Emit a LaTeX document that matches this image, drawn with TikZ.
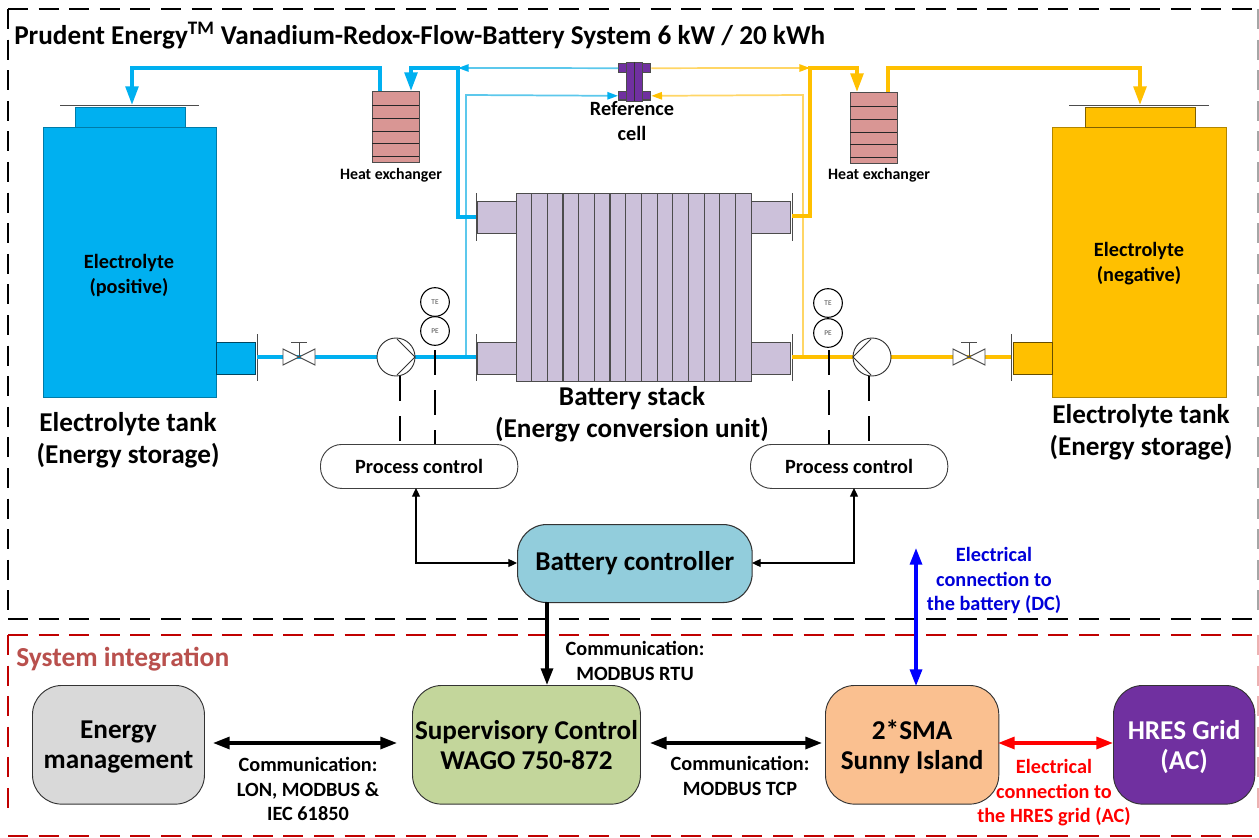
\documentclass[tikz,border=0pt]{standalone}
\usepackage{fontspec}
\setmainfont{Carlito}
\usetikzlibrary{arrows.meta}
\definecolor{cy}{HTML}{00B0F0}
\definecolor{cyl}{HTML}{5CC8EC}
\definecolor{yl}{HTML}{FFC000}
\definecolor{yll}{HTML}{FFD666}
\definecolor{stk}{HTML}{CCC1DA}
\definecolor{hx}{HTML}{D99694}
\definecolor{pur}{HTML}{7030A0}
\definecolor{dred}{HTML}{C00000}
\definecolor{sysred}{HTML}{B9504D}
\definecolor{bcf}{HTML}{92CDDC}
\definecolor{emf}{HTML}{D9D9D9}
\definecolor{scf}{HTML}{C3D69B}
\definecolor{smaf}{HTML}{FAC090}
\tikzset{
  x=0.75pt,y=-0.75pt,
  box/.style={draw=#1,line width=1pt,inner sep=0pt,anchor=north west},
  txt/.style={font=\bfseries,align=center,inner sep=0pt,text depth=0pt},
  big/.style={txt,font=\fontsize{20.4}{23}\selectfont\bfseries},
  hd/.style={txt,font=\fontsize{20.4}{24.5}\selectfont\bfseries},
  mid/.style={txt,font=\fontsize{15.2}{18.5}\selectfont\bfseries},
  sm/.style={txt,font=\fontsize{11.9}{13}\selectfont\bfseries},
  pipeC/.style={draw=cy,line width=2.7pt},
  pipeY/.style={draw=yl,line width=2.7pt},
  thinC/.style={draw=cyl,line width=1.3pt},
  thinY/.style={draw=yll,line width=1.3pt},
  flange/.style={draw=black!70,line width=.6pt},
  sensor/.style={circle,draw=black,line width=.8pt,minimum size=21.5pt,inner sep=0pt,font=\fontsize{5.5}{6}\selectfont,text=black!70},
  pumpc/.style={circle,draw=black!80,fill=white,line width=.7pt,minimum size=28.5pt,inner sep=0pt},
  sig/.style={draw=black,line width=.9pt,dash pattern=on 19pt off 11pt},
  pill/.style={draw=black!75,line width=.7pt,fill=white,rounded corners=16pt,minimum width=148pt,minimum height=33pt,inner sep=0pt,mid},
  blockn/.style={draw=black!80,line width=.7pt,rounded corners=22pt,inner sep=0pt,big},
  dbl/.style={line width=2.4pt,{Triangle[length=12.5pt,width=9pt]}-{Triangle[length=12.5pt,width=9pt]}},
  ctl/.style={line width=.9pt,{Triangle[length=6.5pt,width=6pt]}-{Triangle[length=6.5pt,width=6pt]}},
  edgeblack/.style={draw=black,line width=1.9pt},
  edgered/.style={draw=dred,line width=1.9pt},
  edgefaint/.style={draw=black!35,line width=1.4pt},
  edgefaintred/.style={draw=dred!30,line width=1.4pt},
}
\newcommand{\hexch}[3]{% name, x, y
  \node[box=black!70,fill=hx,minimum width=35pt,minimum height=53pt] (#1) at (#2,#3) {};
  \foreach \d in {14.5,27,40,52,65}{\draw[black!85,line width=.6pt] (#2,#3+\d) -- (#2+47,#3+\d);}
}
\newcommand{\valve}[3]{% name, cx, cy
  \coordinate (#1) at (#2,#3);
  \draw[black!70,fill=white,line width=.7pt] (#2-16,#3-8) -- (#2+16,#3+8) -- (#2+16,#3-8) -- (#2-16,#3+8) -- cycle;
  \draw[black!70,line width=.7pt] (#2,#3) -- (#2,#3-15) (#2-8,#3-15) -- (#2+8,#3-15);
}
\newcommand{\dashH}[4]{% style, y, from, to
  \pgfmathsetmacro{\nsteps}{int((#4-#3)/30.6)}
  \foreach \k in {0,...,\nsteps}{\draw[#1] (#3+\k*30.6,#2) -- (#3+\k*30.6+20,#2);}
}
\newcommand{\dashV}[4]{% style, x, from, to
  \pgfmathsetmacro{\nsteps}{int((#4-#3)/30.6)}
  \foreach \k in {0,...,\nsteps}{\draw[#1] (#2,#3+\k*30.6) -- (#2,#3+\k*30.6+20);}
}
\begin{document}
\begin{tikzpicture}
\useasboundingbox (0,0) rectangle (1259,838);
\fill[white] (0,0) rectangle (1259,838);
% frames
\dashH{edgeblack}{9}{8}{1235}
\dashV{edgeblack}{8}{9}{595}
\dashV{edgefaint}{1258}{9}{595}
\dashH{edgeblack}{619}{8}{1235}
\dashH{edgered}{635}{8}{1235}
\dashV{edgered}{8}{635}{815}
\dashV{edgefaintred}{1258}{635}{815}
\dashH{edgered}{836}{8}{1238}
% title
\node[hd,anchor=west] (title) at (14,33) {Prudent Energy\textsuperscript{TM} Vanadium-Redox-Flow-Battery System 6 kW / 20 kWh};
\node[txt,anchor=west,text=sysred,font=\fontsize{20.6}{22}\selectfont\bfseries] (sys) at (16,657) {System integration};
% tanks
\node[box=cy!70!black,fill=cy,minimum width=129.75pt,minimum height=202.5pt] (tankL) at (43,127) {};
\node[box=cy!70!black,fill=cy,minimum width=82.5pt,minimum height=15pt] (neckL) at (75,107) {};
\node[box=cy!40!black,fill=cy,minimum width=29.25pt,minimum height=24pt] (outL) at (216,342) {};
\draw[flange] (60,105) -- (199,105);
\draw[flange] (257,334) -- (257,381);
\node[box=yl!70!black,fill=yl,minimum width=130.5pt,minimum height=202.5pt] (tankR) at (1052,127) {};
\node[box=yl!50!black,fill=yl,minimum width=82.5pt,minimum height=15pt] (neckR) at (1085,107) {};
\node[box=yl!40!black,fill=yl,minimum width=29.25pt,minimum height=24pt] (outR) at (1013,342) {};
\draw[flange] (1069,105) -- (1209,105);
\draw[flange] (1011,334) -- (1011,381);
\node[mid] (eL) at (129,274) {Electrolyte\\(positive)};
\node[mid] (eR) at (1139,262) {Electrolyte\\(negative)};
\node[hd] (tL) at (128,438) {Electrolyte tank\\(Energy storage)};
\node[hd] (tR) at (1141,430) {Electrolyte tank\\(Energy storage)};
% stack
\node[box=black!70,fill=stk,minimum width=176.25pt,minimum height=141pt] (stack) at (516,193) {};
\foreach \i in {1,...,14}{\draw[black!70,line width=.8pt] (516+\i*15.67,193) -- (516+\i*15.67,381);}
\foreach \n/\x/\y in {sLT/477/201,sLB/477/342,sRT/751/201,sRB/751/342}{
  \node[box=black!70,fill=stk,minimum width=29.25pt,minimum height=24pt] (\n) at (\x,\y) {};}
\draw[flange] (476,193) -- (476,241) (476,334) -- (476,381) (792,193) -- (792,241) (792,334) -- (792,381);
\node[hd] (stl) at (632,412) {Battery stack\\(Energy conversion unit)};
% heat exchangers
\hexch{hxL}{372}{91}
\hexch{hxR}{850}{92}
\node[sm] (hl) at (391,174) {Heat exchanger};
\node[sm] (hr) at (879,174) {Heat exchanger};
% reference cell
\node[box=black!70,fill=pur,minimum width=24pt,minimum height=6.75pt] (refUp) at (618,63) {};
\node[box=black!70,fill=pur,minimum width=24pt,minimum height=6.25pt] (refLo) at (618,91) {};
\node[box=black!70,fill=pur,minimum width=12pt,minimum height=29pt] (ref) at (626,62) {};
\draw[black!80,line width=.7pt] (634,62) -- (634,101);
\node[mid] (rl) at (632,121) {Reference\\cell};
% thin lines
\coordinate (jcT) at (458,68); \coordinate (jyT) at (810,68);
\coordinate (jcB) at (466,357); \coordinate (jyB) at (803,357);
\draw[thinC,-{Triangle[length=8pt,width=5.5pt,color=cy]}] (refUp.west) -- (jcT);
\draw[thinC,-{Triangle[length=8pt,width=5.5pt,color=cy]}] (jcB) -- (466,95) -- (refLo.west);
\draw[thinY,-{Triangle[length=8pt,width=5.5pt,color=yl]}] (refUp.east) -- (jyT);
\draw[thinY,-{Triangle[length=8pt,width=5.5pt,color=yl]}] (jyB) -- (803,95) -- (refLo.east);
% thick pipes
\coordinate (hLa) at (380,91); \coordinate (hLb) at (411,91);
\coordinate (hRa) at (857,92); \coordinate (hRb) at (888,92);
\draw[pipeC,-{Triangle[length=14pt,width=9.5pt,color=cy]}] (hLa) -- (380,68) -- (132,68) -- (132,105);
\draw[pipeC,-{Triangle[length=14pt,width=9.5pt,color=cy]}] (476,217) -- (458,217) -- (jcT) -- (411,68) -- (hLb);
\draw[pipeY,-{Triangle[length=14pt,width=9.5pt,color=yl]}] (792,216) -- (810,216) -- (jyT) -- (857,68) -- (hRa);
\draw[pipeY,-{Triangle[length=14pt,width=9.5pt,color=yl]}] (hRb) -- (888,68) -- (1140,68) -- (1140,105);
% bottom pipes
\draw[pipeC] (257,357) -- (476,357);
\draw[pipeY] (792,357) -- (1011,357);
\valve{vL}{299}{357}
\valve{vR}{969}{357}
\node[pumpc] (pL) at (396,357) {};
\node[pumpc] (pR) at (872,357) {};
\draw[black!80,line width=.7pt] (397,339) -- (415,357) -- (397,375);
\draw[black!80,line width=.7pt] (871,339) -- (853,357) -- (871,375);
\node[sensor] (teL) at (435,302) {TE};
\node[sensor] (peL) at (435,331) {PE};
\node[sensor] (teR) at (828,303) {TE};
\node[sensor] (peR) at (828,333) {PE};
% process control
\node[pill,anchor=north west] (pcL) at (320,444) {Process control};
\node[pill,anchor=north west] (pcR) at (750,444) {Process control};
\draw[sig] (435,350) -- (435,444);
\draw[sig] (400,376) -- (400,444);
\draw[sig] (829,350) -- (829,444);
\draw[sig] (869,376) -- (869,444);
% blocks
\node[draw=black!80,line width=.8pt,fill=bcf,rounded corners=22pt,minimum width=176pt,minimum height=58.5pt,inner sep=0pt,anchor=north west,big,font=\fontsize{20.4}{23}\selectfont\bfseries,text height=14pt,text depth=3pt] (bc) at (517,524) {Battery controller};
\node[blockn,fill=emf,minimum width=129pt,minimum height=89pt,anchor=north west] (em) at (32,685) {Energy\\management};
\node[blockn,fill=scf,minimum width=171pt,minimum height=89pt,anchor=north west] (sc) at (412,685) {Supervisory Control\\WAGO 750-872};
\node[blockn,fill=smaf,minimum width=130pt,minimum height=89pt,anchor=north west] (sma) at (825,685) {2*SMA\\Sunny Island};
\node[blockn,fill=pur,text=white,minimum width=106pt,minimum height=89pt,anchor=north west] (hres) at (1113,685) {HRES Grid\\(AC)};
% connectors
\draw[ctl] (416,488) -- (416,563) -- (517,563);
\draw[ctl] (854,488) -- (854,563) -- (752,563);
\draw[line width=2.4pt,-{Triangle[length=12.5pt,width=9pt]}] (547,602) -- (547,685);
\draw[dbl] (213,743) -- (397,743);
\draw[dbl] (650,743) -- (822,743);
\draw[dbl,blue] (916,548) -- (916,686);
\draw[dbl,red] (998,743) -- (1113,743);
% labels
\node[mid] (l1) at (635,661) {Communication:\\MODBUS RTU};
\node[mid] (l2) at (308,789) {Communication:\\LON, MODBUS \&\\IEC 61850};
\node[mid] (l3) at (740,776) {Communication:\\MODBUS TCP};
\node[mid,text=red] (l4) at (1054,791) {Electrical\\connection to\\the HRES grid (AC)};
\node[mid,text=blue!85!black] (l5) at (994,579) {Electrical\\connection to\\the battery (DC)};
\end{tikzpicture}
\end{document}
